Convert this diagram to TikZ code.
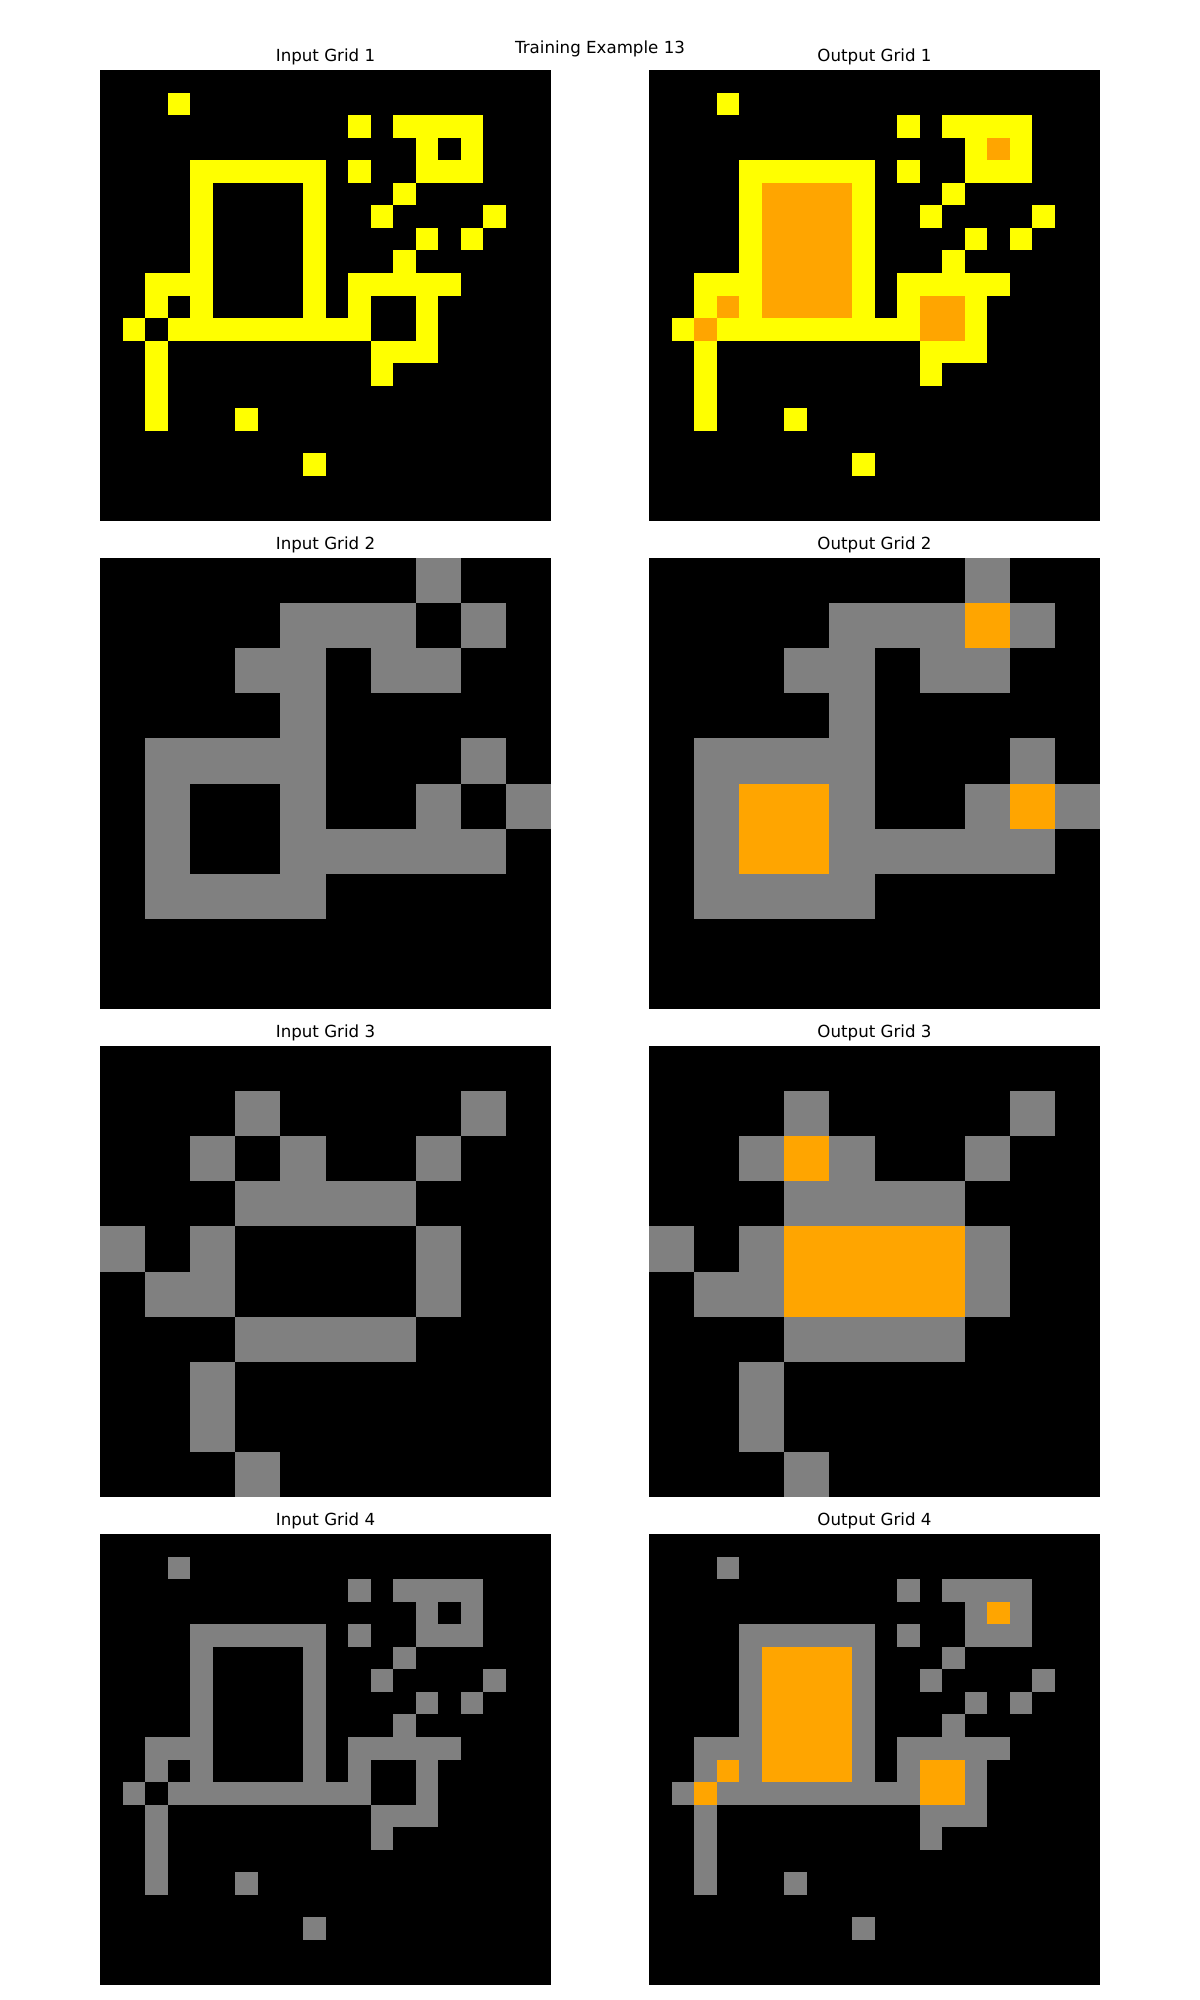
\documentclass[tikz,border=0pt]{standalone}
\usepackage{fontspec}
\setmainfont{DejaVu Sans}
\definecolor{arcyellow}{HTML}{FFFF00}
\definecolor{arcgray}{HTML}{808080}
\definecolor{arcorange}{HTML}{FFA500}
% grid 1 / 4 shape (rows/col-from/col-to), 20x20
\def\shapeA{1/3/3, 2/11/11, 2/13/16, 3/14/14, 3/16/16, 4/4/9, 4/11/11, 4/14/16, 5/4/4, 5/9/9, 5/13/13, 6/4/4, 6/9/9, 6/12/12, 6/17/17, 7/4/4, 7/9/9, 7/14/14, 7/16/16, 8/4/4, 8/9/9, 8/13/13, 9/2/4, 9/9/9, 9/11/15, 10/2/2, 10/4/4, 10/9/9, 10/11/11, 10/14/14, 11/1/1, 11/3/11, 11/14/14, 12/2/2, 12/12/14, 13/2/2, 13/12/12, 14/2/2, 15/2/2, 15/6/6, 17/9/9}
\def\fillA{3/15/15, 5/5/8, 6/5/8, 7/5/8, 8/5/8, 9/5/8, 10/5/8, 10/3/3, 11/2/2, 10/12/13, 11/12/13}
% grid 2, 10x10
\def\shapeB{0/7/7, 1/4/6, 1/8/8, 2/3/4, 2/6/7, 3/4/4, 4/1/4, 4/8/8, 5/1/1, 5/4/4, 5/7/7, 5/9/9, 6/1/1, 6/4/8, 7/1/4}
\def\fillB{1/7/7, 5/2/3, 6/2/3, 5/8/8}
% grid 3, 10x10
\def\shapeC{1/3/3, 1/8/8, 2/2/2, 2/4/4, 2/7/7, 3/3/6, 4/0/0, 4/2/2, 4/7/7, 5/1/2, 5/7/7, 6/3/6, 7/2/2, 8/2/2, 9/3/3}
\def\fillC{2/3/3, 4/3/6, 5/3/6}
% #1 x0, #2 y0, #3 cells per side, #4 colour, #5 list macro
\newcommand{\gridcells}[5]{%
  \pgfmathsetmacro{\cs}{451/#3}%
  \foreach \r/\a/\b in #5 {%
    \fill[#4] ({#1+\a*\cs},{#2+\r*\cs}) rectangle ({#1+(\b+1)*\cs},{#2+(\r+1)*\cs});%
  }%
}
\newcommand{\gridbg}[2]{\fill[black] (#1,#2) rectangle ({#1+451},{#2+451});}
\begin{document}
\begin{tikzpicture}[x=0.72pt,y=-0.72pt,
  ttl/.style={font=\fontsize{12pt}{14pt}\selectfont, anchor=base, inner sep=0pt}]
\fill[white] (0,0) rectangle (1200,2000);
\useasboundingbox (0,0) rectangle (1200,2000);

\node[ttl] (sup) at (600,54) {Training Example 13};

% row 1
\gridbg{100}{70}
\gridcells{100}{70}{20}{arcyellow}{\shapeA}
\gridbg{649}{70}
\gridcells{649}{70}{20}{arcyellow}{\shapeA}
\gridcells{649}{70}{20}{arcorange}{\fillA}
\node[ttl] (in1) at (325.5,61.7) {Input Grid 1};
\node[ttl] (out1) at (874.5,61.7) {Output Grid 1};

% row 2
\gridbg{100}{558}
\gridcells{100}{558}{10}{arcgray}{\shapeB}
\gridbg{649}{558}
\gridcells{649}{558}{10}{arcgray}{\shapeB}
\gridcells{649}{558}{10}{arcorange}{\fillB}
\node[ttl] (in2) at (325.5,549.7) {Input Grid 2};
\node[ttl] (out2) at (874.5,549.7) {Output Grid 2};

% row 3
\gridbg{100}{1046}
\gridcells{100}{1046}{10}{arcgray}{\shapeC}
\gridbg{649}{1046}
\gridcells{649}{1046}{10}{arcgray}{\shapeC}
\gridcells{649}{1046}{10}{arcorange}{\fillC}
\node[ttl] (in3) at (325.5,1037.7) {Input Grid 3};
\node[ttl] (out3) at (874.5,1037.7) {Output Grid 3};

% row 4
\gridbg{100}{1534}
\gridcells{100}{1534}{20}{arcgray}{\shapeA}
\gridbg{649}{1534}
\gridcells{649}{1534}{20}{arcgray}{\shapeA}
\gridcells{649}{1534}{20}{arcorange}{\fillA}
\node[ttl] (in4) at (325.5,1525.7) {Input Grid 4};
\node[ttl] (out4) at (874.5,1525.7) {Output Grid 4};
\end{tikzpicture}
\end{document}
